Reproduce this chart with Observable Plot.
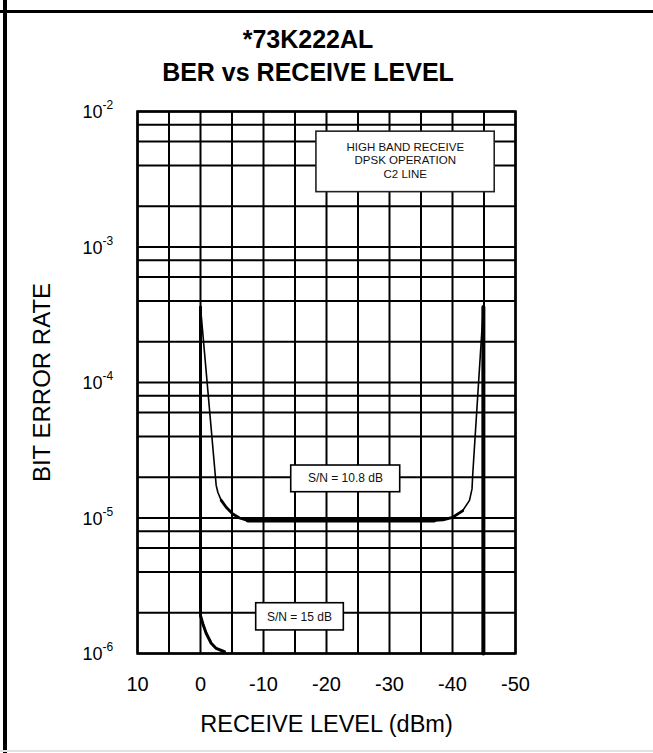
<!DOCTYPE html>
<html>
<head>
<meta charset="utf-8">
<script src="https://cdn.jsdelivr.net/npm/d3@7"></script>
<script src="https://cdn.jsdelivr.net/npm/@observablehq/plot@0.6"></script>
<style>
  html, body { margin: 0; padding: 0; background: #fff; }
  #wrap { position: relative; width: 653px; height: 753px; overflow: hidden; font-family: "Liberation Sans", Arial, sans-serif; }
  #title { position: relative; height: 95px; }
  .t { position: absolute; left: 0; width: 616px; text-align: center; font-weight: bold; font-size: 25px; color: #000; line-height: 1; }
  .bl { position: absolute; background: #000; }
  #chart { position: absolute; left: 0; top: 95px; }
</style>
</head>
<body>
<div id="wrap">
  <div id="title">
    <div class="t" style="top:27px">*73K222AL</div>
    <div class="t" style="top:60px">BER vs RECEIVE LEVEL</div>
  </div>
  <div id="chart"></div>
  <div class="bl" style="left:0;top:10px;width:653px;height:3px"></div>
  <div class="bl" style="left:3px;top:0;width:4px;height:753px"></div>
  <div class="bl" style="left:0;top:750px;width:653px;height:2px;background:#e2e2e2"></div>
</div>
<script>
// ---- data ----
const xTicks = [10, 0, -10, -20, -30, -40, -50];
const xGrid = [10, 5, 0, -5, -10, -15, -20, -25, -30, -35, -40, -45, -50];
const yDecades = [1e-6, 1e-5, 1e-4, 1e-3, 1e-2];
const yExponents = ["-6", "-5", "-4", "-3", "-2"];
const yGrid = [1e-6, 2e-6, 4e-6, 6e-6, 8e-6,
               1e-5, 2e-5, 4e-5, 6e-5, 8e-5,
               1e-4, 2e-4, 4e-4, 6e-4, 8e-4,
               1e-3, 2e-3, 4e-3, 6e-3, 8e-3, 1e-2];

// S/N = 15 dB (two branches)
const sn15LeftLevel = [0, 0, -0.37, -0.9, -1.7, -2.5, -3.8];
const sn15LeftBer   = [3.6e-4, 1.9e-6, 1.66e-6, 1.41e-6, 1.19e-6, 1.09e-6, 1.03e-6];
const sn15RightLevel = [-44.9, -44.9];
const sn15RightBer   = [3.6e-4, 1.0e-6];

// S/N = 10.8 dB
const sn108Level = [0, -2.49, -2.75, -3.29, -4.08, -5.13, -6.19, -7.5, -37.1, -38.5, -40.0, -41.6, -42.7, -43.1, -43.2, -44.9];
const sn108Ber   = [3.6e-4, 1.74e-5, 1.55e-5, 1.35e-5, 1.20e-5, 1.07e-5, 1.0e-5, 9.6e-6, 9.6e-6, 9.7e-6, 1.01e-5, 1.13e-5, 1.35e-5, 1.64e-5, 2.06e-5, 3.6e-4];

// annotations
const noteLines = ["HIGH BAND RECEIVE", "DPSK OPERATION", "C2 LINE"];
const noteLineBer = [5.46e-3, 4.35e-3, 3.43e-3];
const noteBox = {x1: -18.4, x2: -46.7, y1: 2.54e-3, y2: 7.1e-3, cx: -32.5};
const curveLabels = ["S/N = 10.8 dB", "S/N = 15 dB"];
const curveLabelX = [-23.0, -15.7];
const curveLabelY = [1.96e-5, 1.87e-6];
const curveBoxX1 = [-14.4, -8.84];
const curveBoxX2 = [-31.7, -22.75];
const curveBoxY1 = [1.55e-5, 1.48e-6];
const curveBoxY2 = [2.44e-5, 2.35e-6];
const xLabel = "RECEIVE LEVEL (dBm)";
const yLabel = "BIT ERROR RATE";

// ---- tables ----
const pts = (xs, ys) => xs.map((x, i) => ({x, y: ys[i], i}));
const sn15L = pts(sn15LeftLevel, sn15LeftBer);
const sn15R = pts(sn15RightLevel, sn15RightBer);
const sn108 = pts(sn108Level, sn108Ber);
const sn108Mid = sn108.filter(d => d.i >= 3 && d.i <= 11);
const sn108Flat = sn108.filter(d => d.i >= 7 && d.i <= 8);
const decades = yDecades.map((y, i) => ({y, e: yExponents[i]}));
const labels = curveLabels.map((t, i) => ({t, x: curveLabelX[i], y: curveLabelY[i], x1: curveBoxX1[i], x2: curveBoxX2[i], y1: curveBoxY1[i], y2: curveBoxY2[i]}));
const notes = noteLines.map((t, i) => ({t, y: noteLineBer[i]}));

const font = "Liberation Sans, Arial, sans-serif";

const chart = Plot.plot({
  width: 653,
  height: 658,
  marginLeft: 137,
  marginRight: 138,
  marginTop: 16,
  marginBottom: 100,
  style: {fontFamily: font, background: "white", color: "black"},
  x: {domain: [10, -50], axis: null},
  y: {type: "log", domain: [1e-6, 1e-2], axis: null},
  marks: [
    Plot.ruleX(xGrid, {x: d => d, stroke: "black", strokeWidth: 2}),
    Plot.ruleY(yGrid, {y: d => d, stroke: "black", strokeWidth: 2}),
    Plot.frame({stroke: "black", strokeWidth: 2.5}),
    // curves
    Plot.line(sn108, {x: "x", y: "y", stroke: "black", strokeWidth: 1.6, curve: "linear"}),
    Plot.line(sn108Mid, {x: "x", y: "y", stroke: "black", strokeWidth: 2.8, curve: "linear"}),
    Plot.line(sn108Flat, {x: "x", y: "y", stroke: "black", strokeWidth: 4, curve: "linear"}),
    Plot.line(sn15L, {x: "x", y: "y", stroke: "black", strokeWidth: 3, curve: "linear"}),
    Plot.line(sn15R, {x: "x", y: "y", stroke: "black", strokeWidth: 4, curve: "linear"}),
    // annotation boxes
    Plot.rect([noteBox], {x1: "x1", x2: "x2", y1: "y1", y2: "y2", fill: "white", stroke: "#222", strokeWidth: 1.6}),
    Plot.text(notes, {x: () => noteBox.cx, y: "y", text: "t", fontSize: 11.5, fill: "#111"}),
    Plot.rect(labels, {x1: "x1", x2: "x2", y1: "y1", y2: "y2", fill: "white", stroke: "black", strokeWidth: 1.6}),
    Plot.text(labels, {x: "x", y: "y", text: "t", fontSize: 12, fill: "#111"}),
    // x axis
    Plot.text(xTicks, {x: d => d, frameAnchor: "bottom", dy: 31, text: d => String(d), fontSize: 20, lineAnchor: "middle"}),
    Plot.text([xLabel], {frameAnchor: "bottom", dy: 71, text: d => d, fontSize: 23.5, lineAnchor: "middle"}),
    // y axis
    Plot.text(decades, {y: "y", frameAnchor: "left", dx: -35, dy: 1, text: () => "10", textAnchor: "end", fontSize: 18, lineAnchor: "middle"}),
    Plot.text(decades, {y: "y", frameAnchor: "left", dx: -35, dy: -6, text: "e", textAnchor: "start", fontSize: 12, lineAnchor: "middle"}),
    Plot.text([yLabel], {frameAnchor: "left", dx: -95, text: d => d, rotate: -90, textAnchor: "middle", fontSize: 24, lineAnchor: "middle"})
  ]
});
document.getElementById("chart").appendChild(chart);
</script>
</body>
</html>
